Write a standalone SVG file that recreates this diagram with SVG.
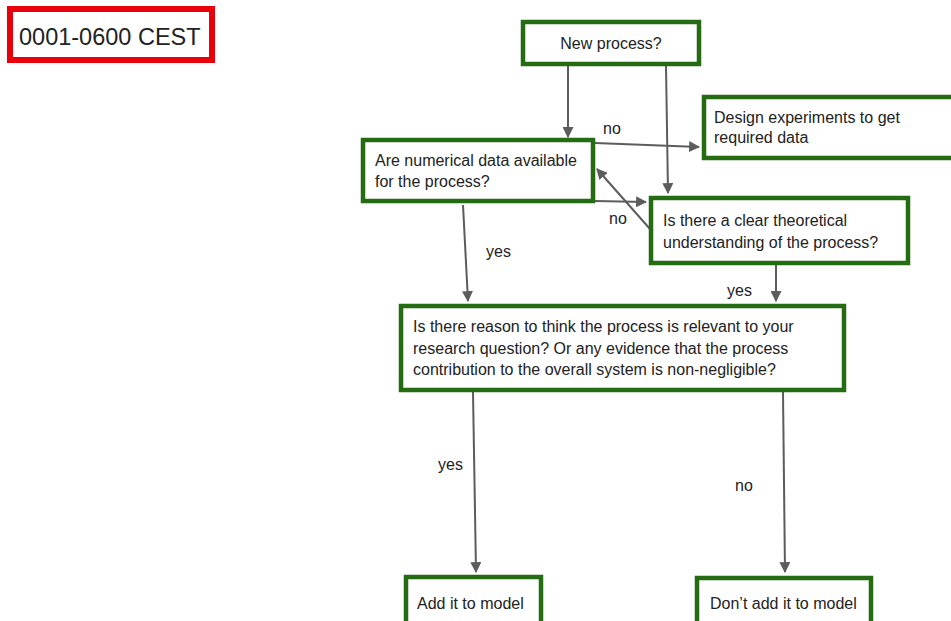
<svg xmlns="http://www.w3.org/2000/svg" width="951" height="621" viewBox="0 0 951 621">
<style>
.box{fill:#fff;stroke:#246b12;stroke-width:4.5}
.t{font-family:"Liberation Sans",Arial,sans-serif;font-size:16px;fill:#222}
.c{stroke:#5c5c5c;stroke-width:2;fill:none;marker-end:url(#ah)}
</style>
<defs>
<marker id="ah" viewBox="0 0 10 10" refX="9" refY="5" markerWidth="5.5" markerHeight="5.5" orient="auto" markerUnits="strokeWidth">
<path d="M0,0 L10,5 L0,10 z" fill="#5c5c5c"/>
</marker>
</defs>
<rect width="951" height="621" fill="#fff"/>
<g id="label-time">
<rect x="10" y="9" width="202" height="51" fill="#fff" stroke="#e8000b" stroke-width="6"/>
<text x="19" y="45" font-family="Liberation Sans,Arial,sans-serif" font-size="23.5" fill="#222">0001-0600 CEST</text>
</g>
<g id="connectors">
<line class="c" x1="568" y1="66" x2="568" y2="137"/>
<line class="c" x1="666" y1="66" x2="668" y2="193"/>
<line class="c" x1="595" y1="143" x2="699" y2="147"/>
<line class="c" x1="595" y1="201" x2="646" y2="202"/>
<line class="c" x1="650" y1="229" x2="597" y2="169"/>
<line class="c" x1="463" y1="205" x2="468" y2="301"/>
<line class="c" x1="776" y1="265" x2="776" y2="301"/>
<line class="c" x1="473" y1="392" x2="476" y2="572"/>
<line class="c" x1="783" y1="392" x2="785" y2="572"/>
<text class="t" x="603" y="134">no</text>
<text class="t" x="609" y="224">no</text>
<text class="t" x="486" y="257">yes</text>
<text class="t" x="727" y="296">yes</text>
<text class="t" x="438" y="470">yes</text>
<text class="t" x="735" y="491">no</text>
</g>
<g id="new-process">
<rect class="box" x="523" y="22" width="176" height="42"/>
<text class="t" x="611" y="49" text-anchor="middle">New process?</text>
</g>
<g id="design-experiments">
<rect class="box" x="704" y="97" width="252" height="61"/>
<text class="t" x="714" y="123">Design experiments to get</text>
<text class="t" x="714" y="143">required data</text>
</g>
<g id="numerical-data">
<rect class="box" x="363" y="140" width="230" height="61"/>
<text class="t" x="375" y="166">Are numerical data available</text>
<text class="t" x="375" y="187">for the process?</text>
</g>
<g id="theoretical">
<rect class="box" x="651" y="198" width="257" height="65"/>
<text class="t" x="663" y="226">Is there a clear theoretical</text>
<text class="t" x="663" y="248">understanding of the process?</text>
</g>
<g id="relevance">
<rect class="box" x="401" y="306" width="443" height="84"/>
<text class="t" x="413" y="332">Is there reason to think the process is relevant to your</text>
<text class="t" x="413" y="354">research question? Or any evidence that the process</text>
<text class="t" x="413" y="375">contribution to the overall system is non-negligible?</text>
</g>
<g id="add-model">
<rect class="box" x="406" y="577" width="135" height="50"/>
<text class="t" x="417" y="609">Add it to model</text>
</g>
<g id="dont-add-model">
<rect class="box" x="697" y="578" width="174" height="49"/>
<text class="t" x="710" y="609">Don’t add it to model</text>
</g>
</svg>
